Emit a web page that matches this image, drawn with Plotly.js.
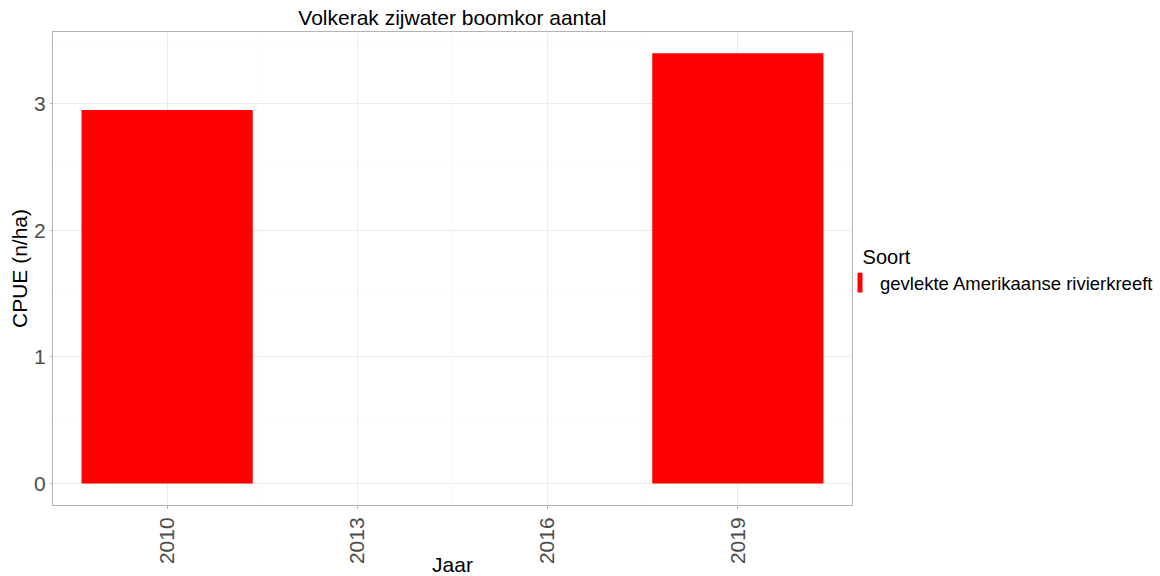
<!DOCTYPE html>
<html>
<head>
<meta charset="utf-8">
<script src="https://cdn.plot.ly/plotly-3.0.1.min.js"></script>
<style>html,body{margin:0;padding:0;background:#fff;}#chart{width:1160px;height:576px;}</style>
</head>
<body>
<div id="chart"></div>
<script>
const years = [2010, 2019];
const cpue = [2.95, 3.40];
const seriesName = "gevlekte Amerikaanse rivierkreeft";
const xTicks = [2010, 2013, 2016, 2019];
const yTicks = [0, 1, 2, 3];

const font = "Liberation Sans, Arial, sans-serif";
const traces = [
  {type: 'bar', x: years, y: cpue, width: 2.7, marker: {color: '#ff0000'}, showlegend: false, name: seriesName, hoverinfo: 'x+y'},
  {type: 'scatter', mode: 'markers', x: [null], y: [null], name: seriesName, showlegend: true,
   marker: {symbol: 'line-ns-open', size: 14, color: '#ff0000', line: {color: '#ff0000', width: 6}}}
];
const layout = {
  width: 1160, height: 576,
  margin: {l: 53, r: 308, t: 32, b: 71},
  paper_bgcolor: '#fff', plot_bgcolor: '#fff',
  font: {family: font, color: '#000'},
  title: {text: 'Volkerak zijwater boomkor aantal', x: 0.39, xanchor: 'center', y: 0.97, yanchor: 'middle', font: {size: 21, color: '#000', family: font}},
  xaxis: {
    range: [2008.2, 2020.8], tickvals: xTicks, ticktext: xTicks.map(String), tickangle: -90,
    tickfont: {size: 21, color: '#4d4d4d'}, ticks: 'outside', ticklen: 3, tickcolor: '#b3b3b3',
    showgrid: true, gridcolor: '#ebebeb', gridwidth: 1, zeroline: false,
    minor: {tickvals: [2011.5, 2014.5, 2017.5], showgrid: true, gridcolor: '#f5f5f5', gridwidth: 0.5},
    showline: true, mirror: true, linecolor: '#b3b3b3', linewidth: 1,
    title: {text: 'Jaar', font: {size: 21, color: '#000'}, standoff: 2}
  },
  yaxis: {
    range: [-0.17, 3.567], tickvals: yTicks, ticktext: yTicks.map(String),
    tickfont: {size: 21, color: '#4d4d4d'}, ticks: 'outside', ticklen: 2, tickcolor: '#b3b3b3',
    showgrid: true, gridcolor: '#ebebeb', gridwidth: 1, zeroline: false,
    minor: {tickvals: [0.5, 1.5, 2.5, 3.5], showgrid: true, gridcolor: '#f5f5f5', gridwidth: 0.5},
    showline: true, mirror: true, linecolor: '#b3b3b3', linewidth: 1,
    title: {text: 'CPUE (n/ha)', font: {size: 21, color: '#000'}, standoff: 0}
  },
  legend: {
    xref: 'container', yref: 'container',
    x: 855 / 1160, xanchor: 'left', y: 0.531, yanchor: 'middle',
    bgcolor: 'rgba(0,0,0,0)', indentation: -15,
    title: {text: '\u00a0Soort', font: {size: 20, color: '#000'}},
    font: {size: 18.5, color: '#000'}, itemwidth: 30, tracegroupgap: 0
  },
  showlegend: true
};
Plotly.newPlot('chart', traces, layout, {displayModeBar: false, staticPlot: true});
</script>
</body>
</html>
